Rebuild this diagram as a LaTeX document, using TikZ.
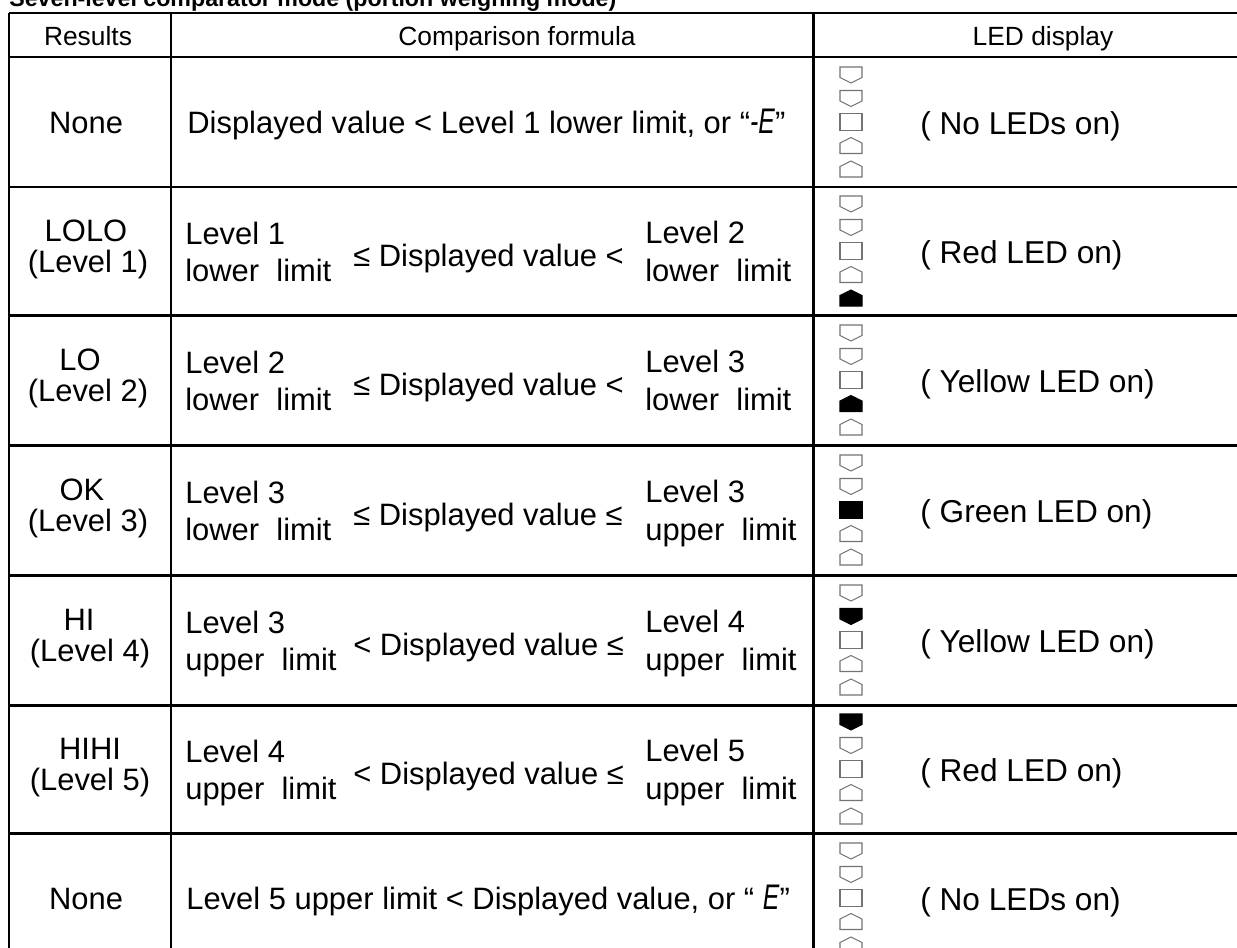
\documentclass[tikz,border=0pt]{standalone}
\usepackage{fontspec}
\setmainfont{Liberation Sans}
\usepackage{graphicx}

\definecolor{ledline}{gray}{0.45}
\tikzstyle{title}=[inner sep=0pt, anchor=base west, font=\fontsize{13.2}{16}\selectfont\bfseries]
\tikzstyle{head}=[inner sep=0pt, anchor=base, font=\fontsize{15}{18}\selectfont]
\tikzstyle{res}=[inner sep=0pt, anchor=base, font=\fontsize{17.6}{21}\selectfont]
\tikzstyle{cell}=[inner sep=0pt, anchor=base west, font=\fontsize{17.6}{21}\selectfont]
\tikzstyle{ledtext}=[inner sep=0pt, anchor=base west, font=\fontsize{18}{21}\selectfont]
\tikzstyle{grid}=[line width=1.7pt]
\tikzstyle{ledoff}=[draw=ledline, line width=0.6pt, fill=white]
\tikzstyle{ledon}=[draw=black, line width=0.6pt, fill=black]
\newcommand{\segE}[1]{\scalebox{0.8}[1.15]{\textit{#1}}}

\begin{document}
\begin{tikzpicture}[x=0.02cm, y=-0.02cm]
  \useasboundingbox (0,0) rectangle (1237,947);
  \clip (0,0) rectangle (1237,947);

  \node[title] (T) at (9,6.5) {Seven-level comparator mode (portion weighing mode)};

  % table rules
  \foreach \y in {13,57,187,315,445,575,705,833}
    \draw[grid] (9,\y) -- (1260,\y);
  \foreach \x in {9,171,813}
    \draw[grid] (\x,13) -- (\x,970);

  \node[head] (H1) at (88,45) {Results};
  \node[head] (H2) at (517,45) {Comparison formula};
  \node[head] (H3) at (1043,45) {LED display};

  % results
  \node[res] (R1) at (86,133) {None};
  \node[res] (R2a) at (86,241) {LOLO};
  \node[res] (R2b) at (88,272) {(Level 1)};
  \node[res] (R3a) at (80,370) {LO};
  \node[res] (R3b) at (88,401) {(Level 2)};
  \node[res] (R4a) at (82,500) {OK};
  \node[res] (R4b) at (88,531) {(Level 3)};
  \node[res] (R5a) at (79,630) {HI};
  \node[res] (R5b) at (90,661) {(Level 4)};
  \node[res] (R6a) at (90,759) {HIHI};
  \node[res] (R6b) at (90,790) {(Level 5)};
  \node[res] (R7) at (86,909) {None};

  % comparison formulas
  \node[cell] (F1) at (187,133) {Displayed value < Level 1 lower limit, or “\segE{-E}”};

  \node[cell] (F2a) at (185,244) {Level 1};
  \node[cell] (F2b) at (185,281) {lower\ \ limit};
  \node[cell] (F2m) at (353,266) {≤ Displayed value <};
  \node[cell] (F2c) at (645,243) {Level 2};
  \node[cell] (F2d) at (645,281) {lower\ \ limit};

  \node[cell] (F3a) at (185,373) {Level 2};
  \node[cell] (F3b) at (185,410) {lower\ \ limit};
  \node[cell] (F3m) at (353,395) {≤ Displayed value <};
  \node[cell] (F3c) at (645,372) {Level 3};
  \node[cell] (F3d) at (645,410) {lower\ \ limit};

  \node[cell] (F4a) at (185,503) {Level 3};
  \node[cell] (F4b) at (185,540) {lower\ \ limit};
  \node[cell] (F4m) at (353,525) {≤ Displayed value ≤};
  \node[cell] (F4c) at (645,502) {Level 3};
  \node[cell] (F4d) at (645,540) {upper\ \ limit};

  \node[cell] (F5a) at (185,633) {Level 3};
  \node[cell] (F5b) at (185,670) {upper\ \ limit};
  \node[cell] (F5m) at (353,655) {< Displayed value ≤};
  \node[cell] (F5c) at (645,632) {Level 4};
  \node[cell] (F5d) at (645,670) {upper\ \ limit};

  \node[cell] (F6a) at (185,762) {Level 4};
  \node[cell] (F6b) at (185,799) {upper\ \ limit};
  \node[cell] (F6m) at (353,784) {< Displayed value ≤};
  \node[cell] (F6c) at (645,761) {Level 5};
  \node[cell] (F6d) at (645,799) {upper\ \ limit};

  \node[cell] (F7) at (186,909) {Level 5 upper limit < Displayed value, or “ \segE{E}”};

  % LED stacks, lit segment per row
  \foreach \yc/\on in {122/0,251/5,380/4,510/3,640/2,769/1,898/0}
    \foreach \k/\ytop/\yside/\ytip in {1/-8/2.5/8,2/-8/2.5/8,3/-8.5/8.5/8.5,4/8/-2.5/-8,5/8/-2.5/-8}{
      \ifnum\k=\on \def\st{ledon}\else\def\st{ledoff}\fi
      \path[\st, shift={(851,{\yc+(\k-3)*23.5})}]
        (-11,\ytop) -- (11,\ytop) -- (11,\yside) -- (0,\ytip) -- (-11,\yside) -- cycle;
    }

  \node[ledtext] (L1) at (920,134) {( No LEDs on)};
  \node[ledtext] (L2) at (920,263) {( Red LED on)};
  \node[ledtext] (L3) at (920,392) {( Yellow LED on)};
  \node[ledtext] (L4) at (920,522) {( Green LED on)};
  \node[ledtext] (L5) at (920,652) {( Yellow LED on)};
  \node[ledtext] (L6) at (920,781) {( Red LED on)};
  \node[ledtext] (L7) at (920,910) {( No LEDs on)};
\end{tikzpicture}
\end{document}
